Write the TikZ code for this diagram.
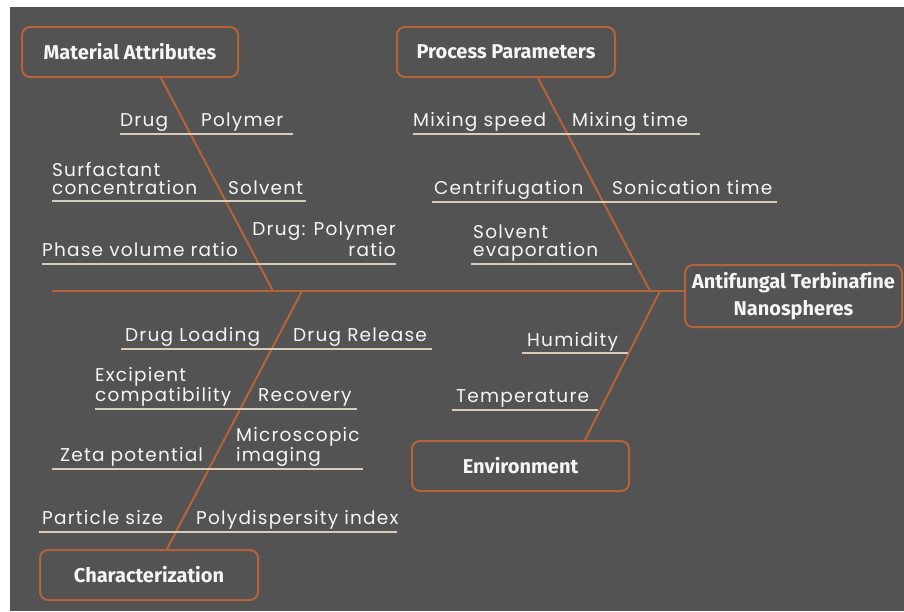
\documentclass[tikz,border=0pt]{standalone}
\usepackage{fontspec}
\usepackage{tikz}
\newfontfamily\causefont{Poppins}[LetterSpace=6.5]
\newfontfamily\headfont{Fira Sans}[Ligatures=NoCommon]
\definecolor{bgcol}{HTML}{535353}
\definecolor{rust}{HTML}{B5633A}
\definecolor{sand}{HTML}{D8CCB6}
\definecolor{ink}{HTML}{F5F5F5}
\tikzset{
  group/.style={draw=rust, line width=2pt, rounded corners=8pt, text=ink, align=center,
    font=\headfont\bfseries\fontsize{20}{27}\selectfont, minimum height=50pt},
  cause/.style={inner sep=0pt, text=ink, align=left,
    font=\causefont\fontsize{18.5}{18}\selectfont},
  under/.style={draw=sand, line width=1.8pt},
  boneline/.style={draw=rust, line width=2pt}
}
\begin{document}
\begin{tikzpicture}[x=1pt,y=-1pt]
\useasboundingbox (0,0) rectangle (904,611);
\fill[bgcol] (10,7) rectangle (904,611);

% Category boxes and the head
\node[group, minimum width=216pt] (mat) at (130,52) {Material Attributes};
\node[group, minimum width=218pt] (proc) at (506,52) {Process Parameters};
\node[group, minimum width=218pt] (char) at (149,575) {Characterization};
\node[group, minimum width=217pt] (env) at (520.5,466) {Environment};
\node[group, minimum width=217pt, minimum height=62pt] (head) at (793.5,296) {Antifungal Terbinafine\\Nanospheres};

% Spine and bones
\coordinate (tail) at (52,291);
\coordinate (matend) at (273,291);
\coordinate (procend) at (650,291);
\coordinate (charend) at (302,291);
\coordinate (envend) at (660,291);
\draw[boneline] (tail) -- (tail -| head.west);
\draw[boneline] ([xshift=31pt]mat.south) -- (matend);
\draw[boneline] ([xshift=32pt]proc.south) -- (procend);
\draw[boneline] (charend) -- ([xshift=18pt]char.north);
\draw[boneline] (envend) -- ([xshift=64.5pt]env.north);

% Material attributes
\draw[under] (120,134) -- (293,134);
\draw[under] (52,201) -- (306,201);
\draw[under] (42,264) -- (396,264);
\node[cause, anchor=base west] (drug) at (120,126) {Drug};
\node[cause, anchor=base west] (poly) at (201,126) {Polymer};
\node[cause, anchor=base west] (surf) at (52,194) {Surfactant\\concentration};
\node[cause, anchor=base west] (solv) at (228,194) {Solvent};
\node[cause, anchor=base west] (phase) at (42,256) {Phase volume ratio};
\node[cause, anchor=base east, align=right] (dpr) at (396,256) {Drug: Polymer\\ratio};

% Process parameters
\draw[under] (413,134) -- (700,134);
\draw[under] (432,202) -- (777,202);
\draw[under] (471,264) -- (632,264);
\node[cause, anchor=base west] (mixsp) at (413,126) {Mixing speed};
\node[cause, anchor=base west] (mixti) at (572,126) {Mixing time};
\node[cause, anchor=base west] (centr) at (434,194) {Centrifugation};
\node[cause, anchor=base west] (sonic) at (612,194) {Sonication time};
\node[cause, anchor=base west] (evap) at (473,256) {Solvent\\evaporation};

% Characterization
\draw[under] (121,349) -- (432,349);
\draw[under] (95,409) -- (357,409);
\draw[under] (52,469) -- (363,469);
\draw[under] (39,532) -- (397,532);
\node[cause, anchor=base west] (load) at (125,341) {Drug Loading};
\node[cause, anchor=base west] (rel) at (293,341) {Drug Release};
\node[cause, anchor=base west] (excip) at (95,401) {Excipient\\compatibility};
\node[cause, anchor=base west] (recov) at (258,401) {Recovery};
\node[cause, anchor=base west] (zeta) at (60,461) {Zeta potential};
\node[cause, anchor=base west] (micro) at (236,461) {Microscopic\\imaging};
\node[cause, anchor=base west] (size) at (42,524) {Particle size};
\node[cause, anchor=base west] (pdi) at (196,524) {Polydispersity index};

% Environment
\draw[under] (522,353) -- (628,353);
\draw[under] (452,410) -- (598,410);
\node[cause, anchor=base west] (humid) at (527,346) {Humidity};
\node[cause, anchor=base west] (temp) at (456,402) {Temperature};
\end{tikzpicture}
\end{document}
